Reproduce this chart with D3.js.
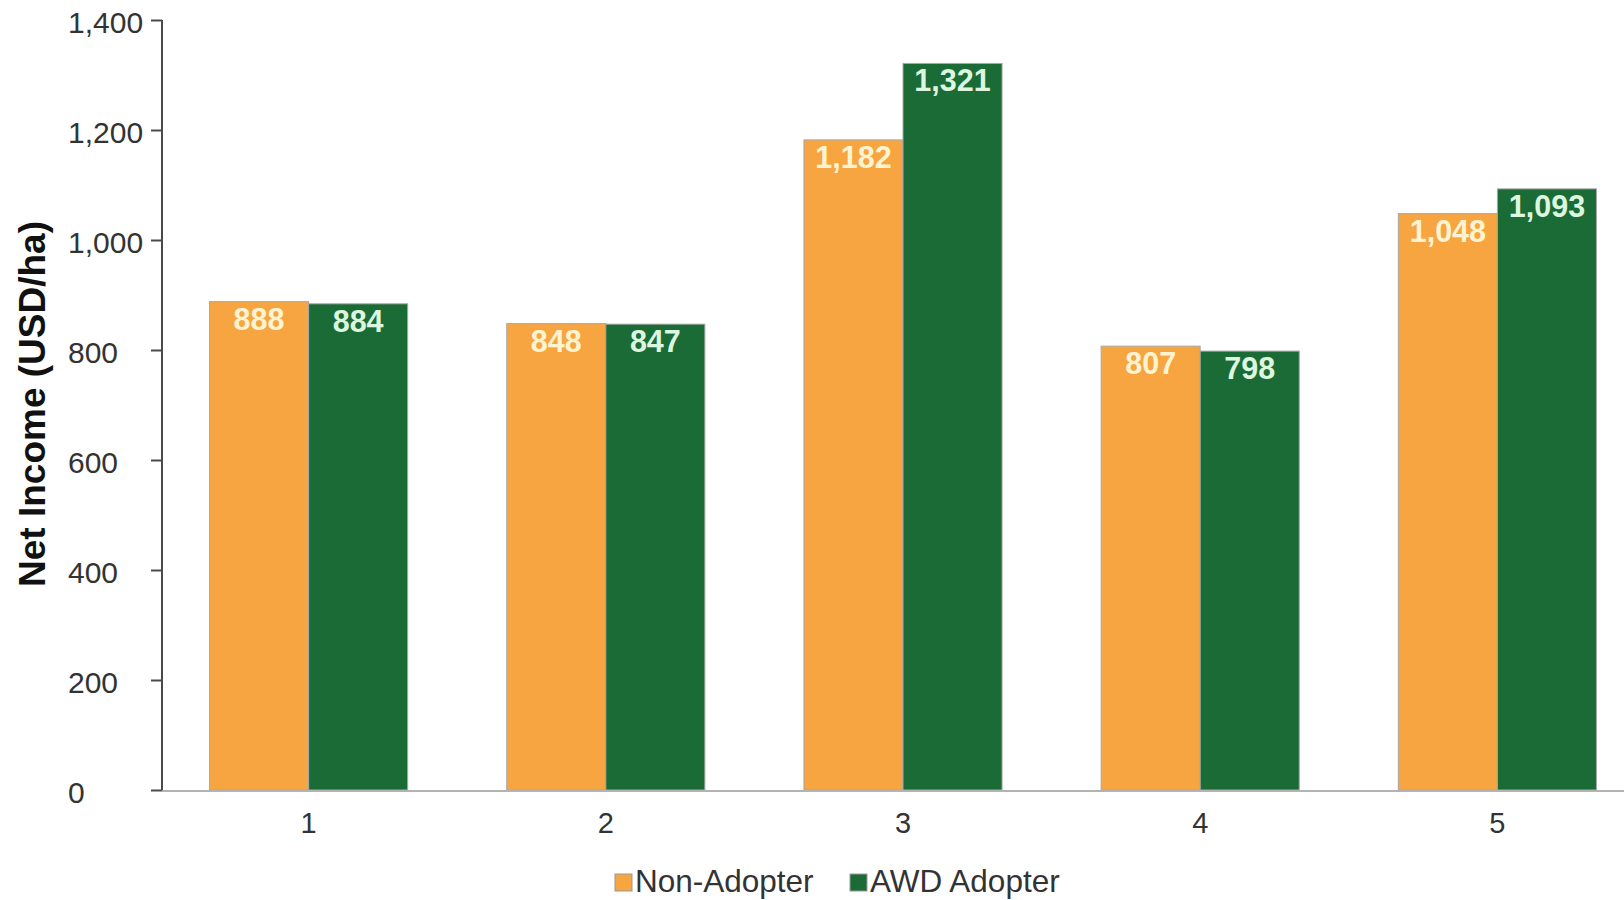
<!DOCTYPE html>
<html><head><meta charset="utf-8">
<script src="https://cdn.jsdelivr.net/npm/d3@7"></script>
<style>html,body{margin:0;padding:0;background:#fff;}svg{display:block;}</style>
</head><body>
<svg id="c" width="1624" height="900"></svg>
<script>
const categories = ["1","2","3","4","5"];
const seriesNames = ["Non-Adopter","AWD Adopter"];
const nonAdopter = [888, 848, 1182, 807, 1048];
const awdAdopter = [884, 847, 1321, 798, 1093];
const yTicks = [0,200,400,600,800,1000,1200,1400];
const colors = ["#F7A541","#1B6B37"];
const labelColors = ["#FFF4D2","#DDF6DF"];

const svg = d3.select("#c");
const font = "'Liberation Sans', Arial, sans-serif";
const y = d3.scaleLinear().domain([0,1400]).range([790,20]);
const x0 = d3.scaleBand().domain(categories).range([160,1646]).padding(0);
const step = x0.step();
const bw = step/3;
const x1 = d3.scaleBand().domain(seriesNames).range([step/2 - bw, step/2 + bw]);

const data = categories.map((c,i)=>({cat:c, vals:[
  {s:seriesNames[0], v:nonAdopter[i], k:0},
  {s:seriesNames[1], v:awdAdopter[i], k:1}]}));

// bars
const g = svg.append("g");
const grp = g.selectAll("g.grp").data(data).join("g")
  .attr("transform", d=>`translate(${x0(d.cat)},0)`);
grp.selectAll("rect").data(d=>d.vals).join("rect")
  .attr("x", d=>x1(d.s)).attr("width", x1.bandwidth())
  .attr("y", d=>y(d.v)).attr("height", d=>y(0)-y(d.v))
  .attr("fill", d=>colors[d.k]).attr("stroke","#a8a8a8").attr("stroke-width",1);
grp.selectAll("text").data(d=>d.vals).join("text")
  .attr("x", d=>x1(d.s)+x1.bandwidth()/2).attr("y", d=>y(d.v)+28)
  .attr("text-anchor","middle").attr("font-family",font).attr("font-size",30.5)
  .attr("font-weight","bold")
  .attr("fill", d=>labelColors[d.k]).text(d=>d3.format(",")(d.v));

// x axis line
svg.append("line").attr("x1",162).attr("x2",1624).attr("y1",y(0)+1).attr("y2",y(0)+1)
  .attr("stroke","#b3b3b3").attr("stroke-width",2);
// x labels
svg.selectAll("text.xl").data(categories).join("text").attr("class","xl")
  .attr("x", d=>x0(d)+step/2).attr("y", 833)
  .attr("text-anchor","middle").attr("font-family",font).attr("font-size",29)
  .attr("fill","#333").text(d=>d);

// y axis
const yAxis = d3.axisLeft(y).tickValues(yTicks).tickSize(11).tickFormat(d3.format(","));
const ya = svg.append("g").attr("transform","translate(162,0)").call(yAxis);
ya.select(".domain").attr("stroke","#4a4a4a").attr("stroke-width",2).attr("d","M0,20V790");
ya.selectAll(".tick line").attr("stroke","#4a4a4a").attr("stroke-width",2);
ya.selectAll(".tick text").attr("x",-94).attr("dy","0.4em").attr("text-anchor","start")
  .attr("font-family",font).attr("font-size",30).attr("fill","#333");

// y title
svg.append("text").attr("transform","translate(45,404) rotate(-90)")
  .attr("text-anchor","middle").attr("font-family",font).attr("font-size",37)
  .attr("font-weight","bold").attr("fill","#111").text("Net Income (USD/ha)");

// legend
const leg = svg.append("g");
const legX = [615, 850];
seriesNames.forEach((s,i)=>{
  leg.append("rect").attr("x",legX[i]).attr("y",874).attr("width",17).attr("height",17)
    .attr("fill",colors[i]).attr("stroke","#999").attr("stroke-width",1);
  leg.append("text").attr("x",legX[i]+20).attr("y",892).attr("font-family",font)
    .attr("font-size",31.5).attr("fill","#333").text(s);
});
</script>
</body></html>
